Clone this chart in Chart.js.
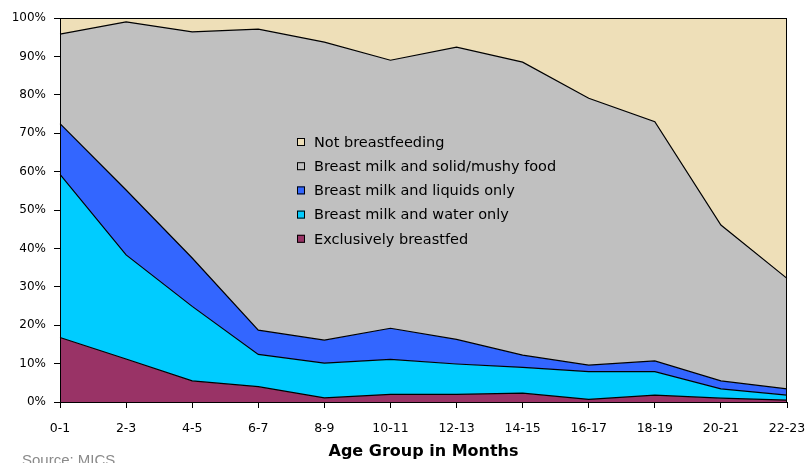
<!DOCTYPE html>
<html>
<head>
<meta charset="utf-8">
<script src="https://cdn.jsdelivr.net/npm/chart.js@4/dist/chart.umd.min.js"></script>
<style>
html, body { margin: 0; padding: 0; background: #fff; }
</style>
</head>
<body>
<canvas id="feedChart" width="810" height="463"></canvas>
<script>
// age groups on the x axis
const ageGroups = ["0-1", "2-3", "4-5", "6-7", "8-9", "10-11", "12-13", "14-15", "16-17", "18-19", "20-21", "22-23"];

// share of children (%) in each feeding category, stacked bottom to top
const exclusive   = [16.8, 11.2, 5.5, 4.0, 1.1, 2.0, 2.0, 2.3, 0.7, 1.8, 1.0, 0.5];
const waterOnly   = [42.5, 27.1, 19.4, 8.4, 9.0, 9.1, 7.9, 6.7, 7.2, 6.1, 2.4, 1.3];
const liquidsOnly = [13.2, 16.9, 12.6, 6.3, 6.0, 8.1, 6.4, 3.2, 1.7, 2.8, 2.1, 1.6];
const solidFood   = [23.3, 43.8, 58.9, 78.4, 77.6, 69.8, 76.1, 76.3, 69.5, 62.3, 40.6, 28.8];
const notBreastfed = [4.2, 1.0, 3.6, 2.9, 6.3, 11.0, 7.6, 11.5, 20.9, 27.0, 53.9, 67.8];

const yTicks = [0, 10, 20, 30, 40, 50, 60, 70, 80, 90, 100];

function area(label, data, color, fill, border) {
    return {
        label: label,
        data: data,
        backgroundColor: color,
        borderColor: "#000",
        borderWidth: border,
        fill: fill,
        pointRadius: 0,
        tension: 0
    };
}

// frame, legend box and source note
const extras = {
    id: "extras",
    afterDraw(chart) {
        const ctx = chart.ctx;
        const a = chart.chartArea;
        ctx.save();
        ctx.strokeStyle = "#000";
        ctx.lineWidth = 1;
        ctx.strokeRect(a.left + 0.5, a.top + 0.5, a.right - a.left - 1, a.bottom - a.top);

        // legend (top series first)
        ctx.font = "14.5px 'DejaVu Sans'";
        ctx.textBaseline = "middle";
        const sets = chart.data.datasets.slice().reverse();
        sets.forEach((ds, i) => {
            const cy = 142 + i * 24.2;
            ctx.fillStyle = ds.backgroundColor;
            ctx.fillRect(297, cy - 4, 8, 8);
            ctx.strokeStyle = "#000";
            ctx.strokeRect(297.5, cy - 3.5, 7, 7);
            ctx.fillStyle = "#000";
            ctx.fillText(ds.label, 314, cy + 1);
        });

        ctx.font = "15px 'Liberation Sans'";
        ctx.fillStyle = "#8a8a8a";
        ctx.textBaseline = "alphabetic";
        ctx.fillText("Source: MICS", 22, 465);
        ctx.restore();
    }
};

const ctx = document.getElementById("feedChart").getContext("2d");
new Chart(ctx, {
    type: "line",
    data: {
        labels: ageGroups,
        datasets: [
            area("Exclusively breastfed", exclusive, "rgb(153,51,102)", "origin", 1.2),
            area("Breast milk and water only", waterOnly, "rgb(0,204,255)", "-1", 1.2),
            area("Breast milk and liquids only", liquidsOnly, "rgb(51,102,255)", "-1", 1.2),
            area("Breast milk and solid/mushy food", solidFood, "rgb(192,192,192)", "-1", 1.2),
            area("Not breastfeeding", notBreastfed, "rgb(238,223,184)", "-1", 0)
        ]
    },
    options: {
        responsive: false,
        animation: false,
        devicePixelRatio: 1,
        layout: { padding: { top: 18, right: 23, left: 0, bottom: 0 } },
        plugins: {
            legend: { display: false },
            tooltip: { enabled: false }
        },
        scales: {
            x: {
                offset: false,
                grid: { display: true, drawOnChartArea: false, tickLength: 6, tickColor: "#000" },
                border: { color: "#000", width: 1 },
                ticks: {
                    color: "#000",
                    font: { family: "DejaVu Sans", size: 12.5 },
                    padding: 13,
                    maxRotation: 0,
                    autoSkip: false
                },
                title: {
                    display: true,
                    text: "Age Group in Months",
                    color: "#000",
                    font: { family: "DejaVu Sans", size: 16, weight: "bold" },
                    padding: { top: 0, bottom: 2 }
                },
                afterFit(scale) {
                    scale.height = 61;
                    scale.paddingRight = 0;
                    scale.paddingLeft = 0;
                }
            },
            y: {
                stacked: true,
                min: 0,
                max: 100,
                grid: { display: true, drawOnChartArea: false, tickLength: 6, tickColor: "#000" },
                border: { color: "#000", width: 1 },
                afterBuildTicks(scale) { scale.ticks = yTicks.map(v => ({ value: v })); },
                ticks: {
                    color: "#000",
                    font: { family: "DejaVu Sans", size: 12 },
                    padding: 8,
                    callback: v => v + "%"
                },
                afterFit(scale) { scale.width = 60; }
            }
        }
    },
    plugins: [extras]
});
</script>
</body>
</html>
